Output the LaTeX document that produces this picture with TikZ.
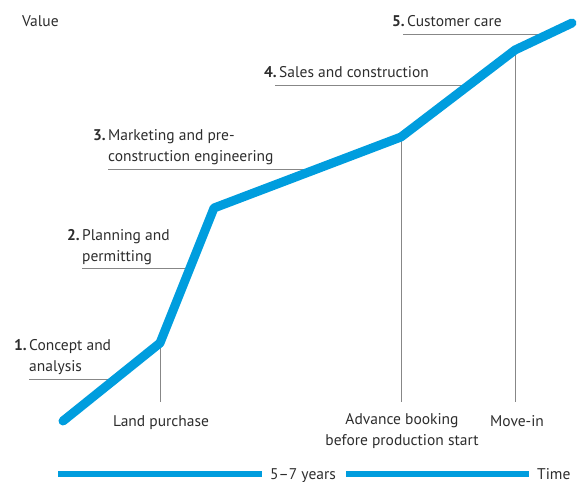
\documentclass[tikz,border=0pt]{standalone}
\usepackage{fontspec}
\setmainfont{PT Sans}
\definecolor{chartblue}{RGB}{0,157,222}
\definecolor{leadgrey}{RGB}{135,135,135}
\definecolor{inkgrey}{RGB}{45,45,45}
\tikzset{
  curve/.style={chartblue, line width=9pt, line cap=round, line join=round},
  bar/.style={chartblue, line width=6pt},
  lead/.style={leadgrey, line width=0.9pt},
  lbl/.style={inkgrey, inner sep=0pt, anchor=base west, align=left,
    font=\fontsize{15.5}{21}\selectfont},
  num/.style={lbl, anchor=base east, font=\fontsize{15.5}{21}\selectfont\bfseries},
  milestone/.style={lbl, anchor=base, align=center},
}
\begin{document}
\begin{tikzpicture}[x=1pt,y=-1pt]
\useasboundingbox (0,0) rectangle (579,482);
% points of the curve
\coordinate (p0) at (63,421);
\coordinate (p1) at (160,343);
\coordinate (p2) at (214,208);
\coordinate (p3) at (401,137);
\coordinate (p4) at (515,50);
\coordinate (p5) at (572,23);
% ends of the lead lines
\coordinate (u1) at (115,379);
\coordinate (u2) at (190,268);
\coordinate (u3) at (317,169);
\coordinate (u4) at (469,85);
\coordinate (u5) at (551,34);
\coordinate (t1) at (160,402);
\coordinate (t3) at (401,402);
\coordinate (t4) at (515,402);
% axis labels
\node[lbl] (value) at (22,26) {Value};
\node[lbl] (years) at (270,479) {5–7 years};
\node[lbl] (time) at (537,479) {Time};
\coordinate (b0) at (58,474);
\coordinate (b1) at (529,474);
\draw[bar] (b0) -- ([xshift=-8pt]years.west |- b0);
\draw[bar] ([xshift=10pt]years.east |- b1) -- (b1);
% phases (base of a two-line label is its last line)
\node[num] (n1) at (27,350) {1.};
\node[lbl] (s1) at (29,371) {Concept and\\analysis};
\node[num] (n2) at (80,240) {2.};
\node[lbl] (s2) at (82,261) {Planning and\\permitting};
\node[num] (n3) at (106,140) {3.};
\node[lbl] (s3) at (108,161) {Marketing and pre-\\construction engineering};
\node[num] (n4) at (277,77) {4.};
\node[lbl] (s4) at (279,77) {Sales and construction};
\node[num] (n5) at (405,26) {5.};
\node[lbl] (s5) at (407,26) {Customer care};
\draw[lead] (s1.west |- u1) -- (u1);
\draw[lead] (s2.west |- u2) -- (u2);
\draw[lead] (s3.west |- u3) -- (u3);
\draw[lead] ([xshift=-4pt]s4.west |- u4) -- (u4);
\draw[lead] ([xshift=-4pt]s5.west |- u5) -- (u5);
% milestones
\draw[lead] (p1) -- (t1);
\draw[lead] (p3) -- (t3);
\draw[lead] (p4) -- (t4);
\node[milestone] (m1) at (161,426) {Land purchase};
\node[milestone] (m3) at (402,445) {Advance booking\\before production start};
\node[milestone] (m4) at (517,426) {Move-in};
% value curve
\draw[curve] (p0) -- (p1) -- (p2) -- (p3) -- (p4) -- (p5);
\end{tikzpicture}
\end{document}
